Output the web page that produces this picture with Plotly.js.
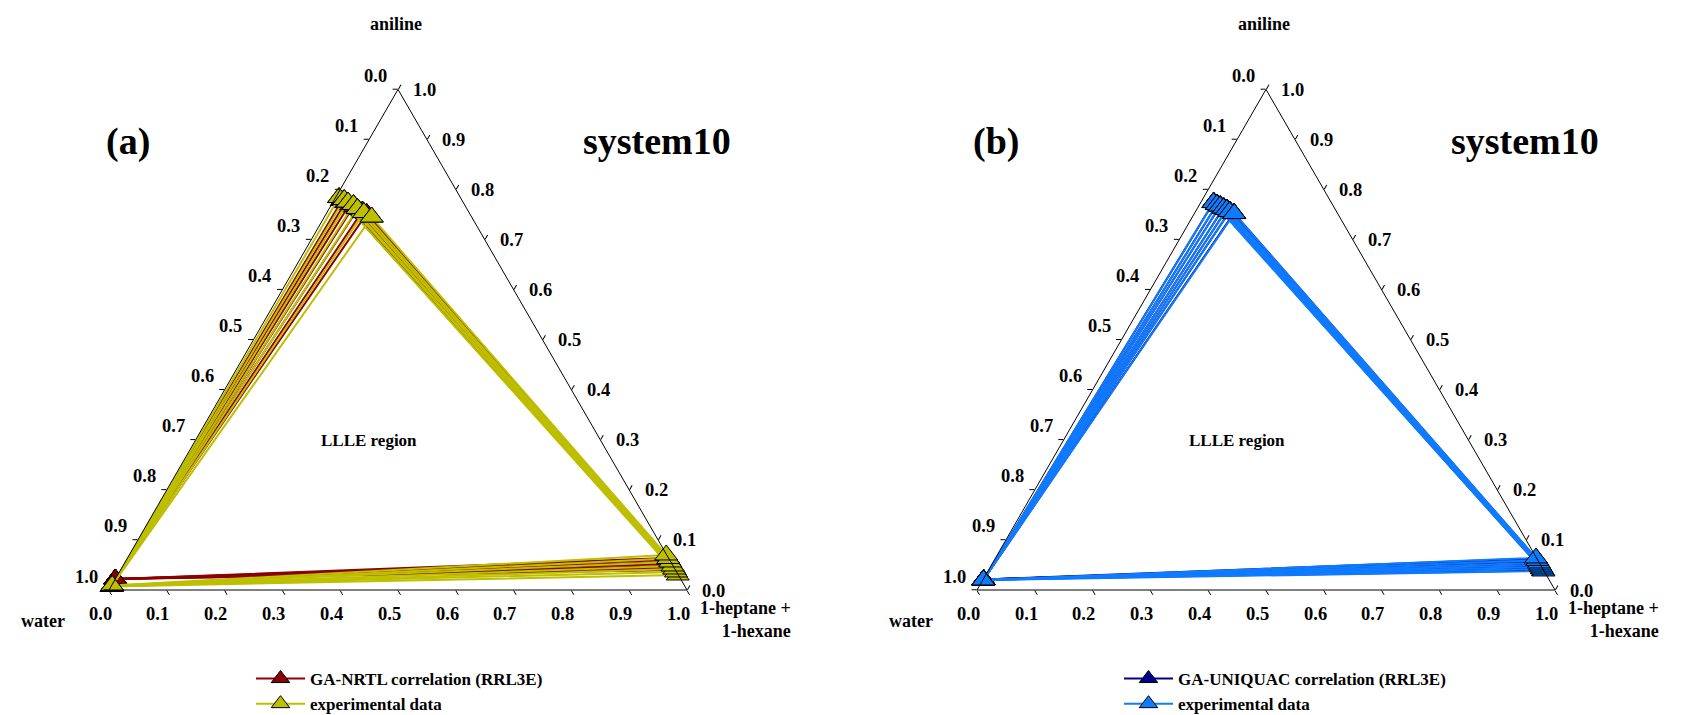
<!DOCTYPE html>
<html><head><meta charset="utf-8">
<script src="https://cdn.plot.ly/plotly-3.0.1.min.js"></script>
<style>html,body{margin:0;padding:0;background:#fff;}#chart{width:1703px;height:715px;}</style>
</head><body><div id="chart"></div>
<script>
// ---------------- tick labels ----------------
const tickValues = [0, 0.1, 0.2, 0.3, 0.4, 0.5, 0.6, 0.7, 0.8, 0.9, 1.0];
const tickLabels = ['1.0', '0.9', '0.8', '0.7', '0.6', '0.5', '0.4', '0.3', '0.2', '0.1', '0.0'];

// ---------------- panel (a): GA-NRTL vs experimental ----------------
// a = aniline, c = 1-heptane + 1-hexane (water is the remainder)
// aniline-rich phase
const expA_anilPhase_aniline = [0.784, 0.780, 0.775, 0.770, 0.762, 0.754, 0.745];
const expA_anilPhase_hc      = [0.006, 0.017, 0.026, 0.038, 0.049, 0.064, 0.082];
// hydrocarbon-rich phase
const expA_hcPhase_aniline   = [0.030, 0.036, 0.042, 0.048, 0.056, 0.063, 0.070];
const expA_hcPhase_hc        = [0.969, 0.963, 0.957, 0.951, 0.943, 0.936, 0.929];
// water-rich phase
const expA_watPhase_aniline  = [0.007, 0.008, 0.007, 0.008, 0.009, 0.008, 0.009];
const expA_watPhase_hc       = [0.001, 0.001, 0.001, 0.001, 0.001, 0.001, 0.001];

const nrtl_anilPhase_aniline = [0.778, 0.774, 0.770, 0.766, 0.761, 0.757, 0.752];
const nrtl_anilPhase_hc      = [0.014, 0.022, 0.031, 0.040, 0.050, 0.060, 0.070];
const nrtl_hcPhase_aniline   = [0.040, 0.044, 0.048, 0.052, 0.056, 0.060, 0.064];
const nrtl_hcPhase_hc        = [0.959, 0.955, 0.951, 0.947, 0.943, 0.939, 0.935];
const nrtl_watPhase_aniline  = [0.022, 0.022, 0.022, 0.022, 0.022, 0.022, 0.022];
const nrtl_watPhase_hc       = [0.000, 0.000, 0.000, 0.000, 0.000, 0.000, 0.000];

// ---------------- panel (b): GA-UNIQUAC vs experimental ----------------
const expB_anilPhase_aniline = [0.774, 0.770, 0.767, 0.763, 0.760, 0.756, 0.752];
const expB_anilPhase_hc      = [0.022, 0.030, 0.037, 0.045, 0.052, 0.059, 0.069];
const expB_hcPhase_aniline   = [0.038, 0.042, 0.046, 0.050, 0.054, 0.059, 0.064];
const expB_hcPhase_hc        = [0.961, 0.957, 0.953, 0.949, 0.945, 0.940, 0.935];
const expB_watPhase_aniline  = [0.020, 0.020, 0.020, 0.020, 0.020, 0.020, 0.020];
const expB_watPhase_hc       = [0.001, 0.001, 0.001, 0.001, 0.001, 0.001, 0.001];

const uniq_anilPhase_aniline = [0.775, 0.771, 0.768, 0.764, 0.761, 0.757, 0.753];
const uniq_anilPhase_hc      = [0.022, 0.030, 0.037, 0.045, 0.052, 0.059, 0.068];
const uniq_hcPhase_aniline   = [0.039, 0.043, 0.047, 0.051, 0.055, 0.059, 0.063];
const uniq_hcPhase_hc        = [0.960, 0.956, 0.952, 0.948, 0.944, 0.940, 0.936];
const uniq_watPhase_aniline  = [0.021, 0.021, 0.021, 0.021, 0.021, 0.021, 0.021];
const uniq_watPhase_hc       = [0.001, 0.001, 0.001, 0.001, 0.001, 0.001, 0.001];

const FONT = 'Liberation Serif, Times New Roman, serif';

function tiePaths(anA, anC, hcA, hcC, waA, waC) {
  const a = [], c = [];
  for (let i = 0; i < anA.length; i++) {
    a.push(anA[i], hcA[i], waA[i], anA[i], null);
    c.push(anC[i], hcC[i], waC[i], anC[i], null);
  }
  return {a, c};
}

function trace(p, name, color, subplot, legend) {
  return {
    type: 'scatterternary', mode: 'lines+markers', name: name,
    a: p.a, c: p.c, subplot: subplot, legend: legend,
    cliponaxis: false, connectgaps: false, hoverinfo: 'skip',
    line: {color: color, width: 2},
    marker: {symbol: 'triangle-up', size: 20, color: color, line: {color: '#000', width: 1}}
  };
}

const data = [
  trace(tiePaths(nrtl_anilPhase_aniline, nrtl_anilPhase_hc, nrtl_hcPhase_aniline, nrtl_hcPhase_hc, nrtl_watPhase_aniline, nrtl_watPhase_hc),
        'GA-NRTL correlation (RRL3E)', '#8B0000', 'ternary', 'legend'),
  trace(tiePaths(expA_anilPhase_aniline, expA_anilPhase_hc, expA_hcPhase_aniline, expA_hcPhase_hc, expA_watPhase_aniline, expA_watPhase_hc),
        'experimental data', '#BDBF00', 'ternary', 'legend'),
  trace(tiePaths(uniq_anilPhase_aniline, uniq_anilPhase_hc, uniq_hcPhase_aniline, uniq_hcPhase_hc, uniq_watPhase_aniline, uniq_watPhase_hc),
        'GA-UNIQUAC correlation (RRL3E)', '#00008B', 'ternary2', 'legend2'),
  trace(tiePaths(expB_anilPhase_aniline, expB_anilPhase_hc, expB_hcPhase_aniline, expB_hcPhase_hc, expB_watPhase_aniline, expB_watPhase_hc),
        'experimental data', '#0F7BFF', 'ternary2', 'legend2')
];

// ---------------- geometry of the two ternary frames ----------------
const W = 1703, H = 715;
const TRI_W = 578, TRI_BOTTOM = 590;
const TRI_H = TRI_W * Math.sqrt(3) / 2;
const panelLeft = [109, 977];

function axis() {
  return {
    min: 0, showgrid: false, showline: true, linecolor: '#000', linewidth: 1,
    ticks: 'outside', ticklen: 5, tickcolor: '#000', tickwidth: 1,
    tickmode: 'array', tickvals: tickValues, showticklabels: false,
    title: {text: ''}
  };
}
function tern(x0) {
  return {sum: 1, bgcolor: 'rgba(0,0,0,0)',
    domain: {x: [x0 / W, (x0 + TRI_W) / W], y: [(H - TRI_BOTTOM) / H, (H - TRI_BOTTOM + TRI_H) / H]},
    aaxis: axis(), baxis: axis(), caxis: axis()};
}

function ann(text, px, py, size, extra) {
  return Object.assign({text: text, x: px / W, y: 1 - py / H, xref: 'paper', yref: 'paper',
    showarrow: false, xanchor: 'center', yanchor: 'middle',
    font: {family: FONT, size: size, color: '#000', weight: 700}}, extra || {});
}
const annotations = [];
const TICK_FONT = 18.5;
panelLeft.forEach((x0, k) => {
  const dx = x0 - 109;
  // tick labels along the three edges (placed from the tick values)
  tickValues.forEach((v, i) => {
    // left edge: aniline axis position v, labelled with water fraction
    annotations.push(ann(tickLabels[i], x0 + v * TRI_W / 2 - 22.5, TRI_BOTTOM - v * TRI_H - 13.5, TICK_FONT));
    // bottom edge: water axis position v, labelled with hydrocarbon fraction
    annotations.push(ann(tickLabels[i], x0 + (1 - v) * TRI_W - 8.8, TRI_BOTTOM + 23.5, TICK_FONT));
    // right edge: hydrocarbon axis position v, labelled with aniline fraction
    annotations.push(ann(tickLabels[i], x0 + TRI_W - (1 - v) * TRI_W / 2 + 26.8, TRI_BOTTOM - (1 - v) * TRI_H + 0.5, TICK_FONT));
  });
  annotations.push(ann('aniline', 396 + dx, 24, 18));
  annotations.push(ann('water', 43 + dx, 621, 18));
  annotations.push(ann('1-heptane +<br>1-hexane', 793 + dx, 619, 18, {xanchor: 'right', align: 'right'}));
  annotations.push(ann(k === 0 ? '(a)' : '(b)', 128 + dx, 141, 38));
  annotations.push(ann('system10', 657 + dx, 141, 38));
  annotations.push(ann('LLLE region', 369 + dx, 440, 17));
});

const legendStyle = (x) => ({
  x: x / W, y: 0, xanchor: 'left', yanchor: 'bottom',
  bgcolor: 'rgba(0,0,0,0)', borderwidth: 0, itemwidth: 49,
  font: {family: FONT, size: 17, color: '#000', weight: 700}
});

const layout = {
  width: W, height: H, margin: {l: 0, r: 0, t: 0, b: 0},
  paper_bgcolor: '#fff', showlegend: true, hovermode: false,
  ternary: tern(panelLeft[0]), ternary2: tern(panelLeft[1]),
  legend: legendStyle(251), legend2: legendStyle(1119),
  annotations: annotations
};

Plotly.newPlot('chart', data, layout, {displayModeBar: false, staticPlot: true}).then(gd => {
  // nudge the legends a few pixels lower (Plotly keeps them inside the figure)
  gd.querySelectorAll('g.legend, g.legend2').forEach(g => {
    const t = g.getAttribute('transform') || '';
    const m = t.match(/translate\(\s*([-\d.]+)[ ,]+([-\d.]+)\s*\)/);
    if (m) g.setAttribute('transform', 'translate(' + m[1] + ',' + (parseFloat(m[2]) + 7) + ')');
  });
});
</script></body></html>
